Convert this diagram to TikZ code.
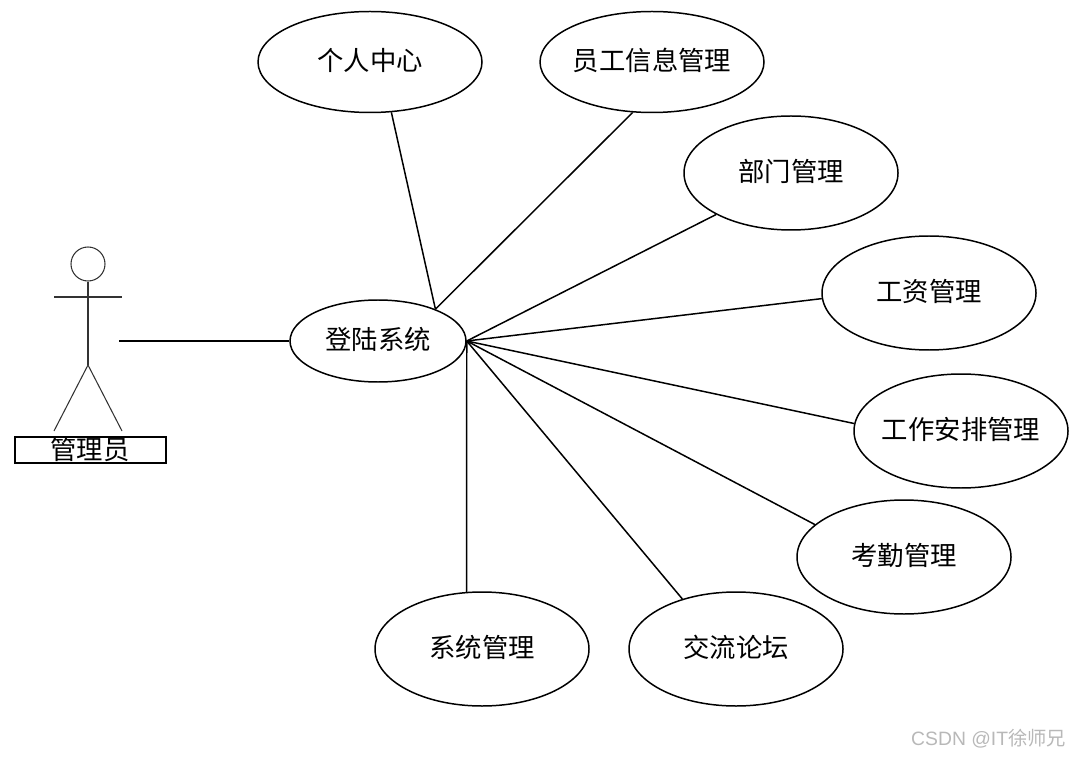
\documentclass[tikz,border=0pt]{standalone}
\usepackage{fontspec}
\setmainfont{Noto Sans CJK SC}
\newfontfamily\latinfont{Liberation Sans}
\usetikzlibrary{shapes.geometric}

\tikzset{
    bigcase/.style={draw, ellipse, line width=0.85pt, inner sep=0pt, minimum width=4.48cm, minimum height=2.02cm, text height=12pt, text depth=2.2pt, font=\fontsize{15}{18}\selectfont},
    usecase/.style={bigcase, minimum width=4.28cm, minimum height=2.28cm},
    link/.style={line width=0.85pt},
    limb/.style={line width=0.6pt, black!80}
}

\begin{document}
\begin{tikzpicture}

\useasboundingbox (0, 0) rectangle (21.4, 15.12);

\node(person)[bigcase] at (7.40, 13.88) {个人中心};
\node(staff)[bigcase] at (13.04, 13.88) {\makebox[0pt]{员工信息管理}};
\node(dept)[usecase] at (15.82, 11.66) {部门管理};
\node(salary)[usecase] at (18.58, 9.26) {工资管理};
\node(work)[usecase] at (19.22, 6.50) {\makebox[0pt]{工作安排管理}};
\node(attend)[usecase] at (18.08, 3.98) {考勤管理};
\node(forum)[usecase] at (14.72, 2.14) {交流论坛};
\node(system)[usecase] at (9.64, 2.14) {系统管理};
\node(login)[bigcase, minimum width=3.52cm, minimum height=1.64cm] at (7.56, 8.30) {登陆系统};

\node(head)[draw, circle, limb, inner sep=0pt, minimum size=0.68cm] at (1.76, 9.84) {};
\coordinate(hip) at (1.76, 7.82);
\coordinate(handl) at (1.08, 9.18);
\coordinate(handr) at (2.44, 9.18);
\coordinate(footl) at (1.08, 6.50);
\coordinate(footr) at (2.44, 6.50);
\node(namebox)[draw, line width=0.7pt, inner sep=0pt, minimum width=3.02cm, minimum height=0.52cm] at (1.81, 6.12) {};
\node(name)[inner sep=0pt, font=\fontsize{15}{18}\selectfont] at (1.80, 6.14) {管理员};

\coordinate(port) at (2.38, 8.30);
\coordinate(thick1) at (4.92, 8.30);
\coordinate(thick2) at (5.18, 8.30);

\draw[limb] (head.south)--(hip);
\draw[limb] (handl)--(handr);
\draw[limb] (hip)--(footl);
\draw[limb] (hip)--(footr);

\draw[link] (port)--(login.west);
\draw[line width=1.2pt] (thick1)--(thick2);

\draw[link] (login.29)--(person.293);
\draw[link] (login.29)--(staff.249);
\draw[link] (login.east)--(dept.209);
\draw[link] (login.east)--(salary.183);
\draw[link] (login.east)--(work.176);
\draw[link] (login.east)--(attend.160);
\draw[link] (login.east)--(forum.137);
\draw[link] (login.east)--(system.105.8);

\node(mark)[anchor=east, inner sep=0pt, text=black!28, font=\fontsize{11}{13}\selectfont] at (21.33, 0.34) {{\latinfont CSDN @IT}徐师兄};

\end{tikzpicture}
\end{document}
